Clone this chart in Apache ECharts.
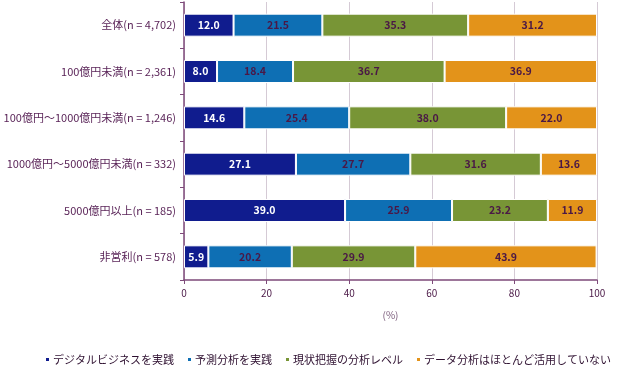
<!DOCTYPE html>
<html><head><meta charset="utf-8">
<script src="https://cdn.jsdelivr.net/npm/echarts@6/dist/echarts.min.js"></script>
<style>html,body{margin:0;padding:0;background:#fff}#c{width:620px;height:369px}</style>
</head><body><div id="c"></div>
<script>
const categories = ['全体(n = 4,702)','100億円未満(n = 2,361)','100億円～1000億円未満(n = 1,246)','1000億円～5000億円未満(n = 332)','5000億円以上(n = 185)','非営利(n = 578)'];
const seriesNames = ['デジタルビジネスを実践','予測分析を実践','現状把握の分析レベル','データ分析はほとんど活用していない'];
const digital = [12.0, 8.0, 14.6, 27.1, 39.0, 5.9];
const predict = [21.5, 18.4, 25.4, 27.7, 25.9, 20.2];
const current = [35.3, 36.7, 38.0, 31.6, 23.2, 29.9];
const none = [31.2, 36.9, 22.0, 13.6, 11.9, 43.9];
const xTicks = [0, 20, 40, 60, 80, 100];
const colors = ['#101c8e', '#0e6fb4', '#789536', '#e3931a'];
const labelColors = ['#ffffff', '#4a1846', '#4a1846', '#4a1846'];
const values = [digital, predict, current, none];
const chart = echarts.init(document.getElementById('c'));
const font = '"Noto Sans CJK JP", "Noto Sans", sans-serif';
chart.setOption({
  animation: false,
  textStyle: {fontFamily: font},
  grid: {left: 184, right: 23, top: 2, bottom: 89},
  legend: {
    bottom: 4, left: 44, width: 576, padding: 0, icon: 'rect', itemWidth: 5, itemHeight: 5, itemGap: 12,
    textStyle: {fontSize: 11, color: '#2e1030', fontFamily: font, padding: [0, 0, 0, -2]},
    data: seriesNames
  },
  xAxis: {
    type: 'value', min: 0, max: 100, interval: 20,
    name: '(%)', nameLocation: 'middle', nameGap: 30,
    nameTextStyle: {color: '#7a5a7a', fontSize: 10},
    axisLine: {show: true, lineStyle: {color: '#7e4a7a', width: 1.5}},
    axisTick: {show: true, length: 4, lineStyle: {color: '#7e4a7a'}},
    axisLabel: {color: '#4a1846', fontSize: 10, margin: 8, formatter: v => xTicks.includes(v) ? String(v) : ''},
    splitLine: {show: true, lineStyle: {color: '#d5cad5', width: 1}}
  },
  yAxis: {
    type: 'category', inverse: true, data: categories,
    axisLine: {show: true, lineStyle: {color: '#7e4a7a', width: 1.5}},
    axisTick: {show: true, length: 4, lineStyle: {color: '#7e4a7a'}},
    axisLabel: {color: '#5a2458', fontSize: 11, margin: 8}
  },
  series: seriesNames.map((n, i) => ({
    name: n, type: 'bar', stack: 'total', barWidth: 23,
    itemStyle: {color: colors[i], borderColor: '#ffffff', borderWidth: 1},
    label: {show: true, position: 'inside', color: labelColors[i], fontSize: 10.5, fontWeight: 'bold',
      formatter: p => p.value.toFixed(1)},
    data: values[i]
  }))
});
</script></body></html>
